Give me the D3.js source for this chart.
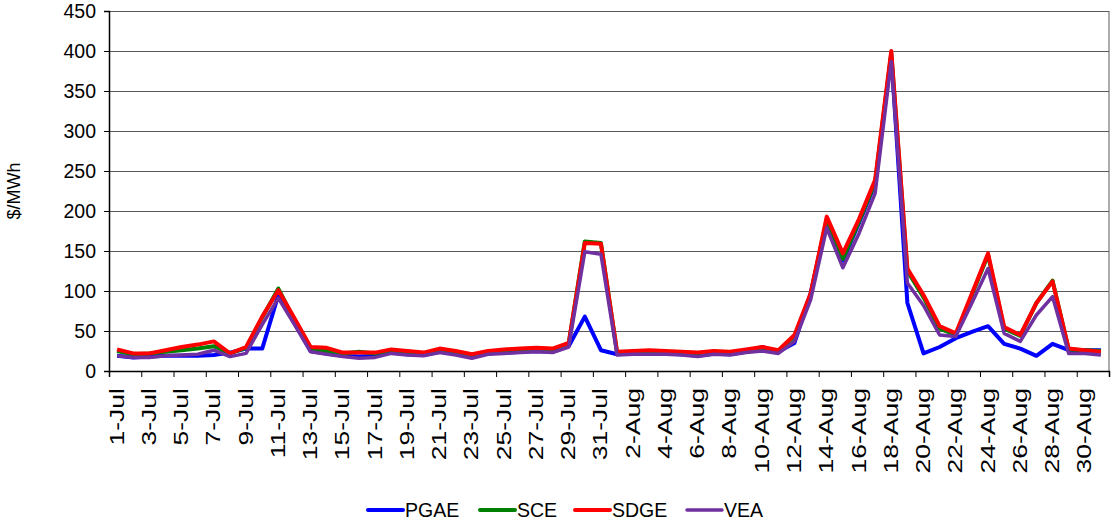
<!DOCTYPE html>
<html>
<head>
<meta charset="utf-8">
<script src="https://cdn.jsdelivr.net/npm/d3@7"></script>
<style>
  body { margin: 0; background: #fff; }
  text { font-family: "Liberation Sans", Arial, sans-serif; }
</style>
</head>
<body>
<svg id="chart"></svg>
<script>
// days 1-Jul .. 31-Aug
const days = [];
for (let d = 1; d <= 31; d++) days.push(d + "-Jul");
for (let d = 1; d <= 31; d++) days.push(d + "-Aug");

const seriesNames = ["PGAE", "SCE", "SDGE", "VEA"];
const seriesColors = ["#0000ff", "#008000", "#ff0000", "#7030a0"];

const pgae = [19,17,18,19,19,19,20,23,28,28,95,60,25,22,19,18,19,23,21,20,24,22,18,22,23,24,25,24,31,68,26,
  21,22,22,22,21,19,22,21,24,30,24,35,97,188,138,185,234,395,85,22,30,41,49,56,34,28,19,34,26,26,26];
const sce = [25,21,22,24,26,28,31,22,29,67,103,64,28,25,22,24,22,26,24,22,27,24,20,24,26,27,28,27,34,162,160,
  23,24,25,24,23,22,24,23,26,29,25,43,95,190,140,187,236,397,125,92,53,45,95,145,53,44,85,113,27,26,25];
const sdge = [27,22,22,26,30,33,37,22,30,68,101,66,30,29,23,23,23,27,25,23,28,25,21,25,27,28,29,28,35,160,159,
  24,25,26,25,24,23,25,24,27,30,26,45,97,193,147,190,239,400,128,95,56,47,97,147,55,45,85,112,28,26,24];
const vea = [19,17,17,19,20,21,26,18,22,58,91,58,24,21,18,16,17,22,20,19,23,20,16,21,22,23,24,23,30,149,146,
  20,21,21,21,20,18,21,20,23,25,22,37,89,179,129,172,222,387,110,82,45,43,85,128,47,37,70,93,22,22,20];

const yTicks = [0, 50, 100, 150, 200, 250, 300, 350, 400, 450];

class PriceChart {

  constructor(_config) {
    this.config = {
      parentElement: _config.parentElement,
      containerWidth: _config.containerWidth || 1112,
      containerHeight: _config.containerHeight || 521,
      margin: { top: 11, bottom: 150, right: 3, left: 109 }
    }
    this.initVis();
  }

  initVis() {
    let vis = this;

    vis.width = vis.config.containerWidth - vis.config.margin.left - vis.config.margin.right;
    vis.height = vis.config.containerHeight - vis.config.margin.top - vis.config.margin.bottom;

    vis.svg = d3.select(vis.config.parentElement)
        .attr('width', vis.config.containerWidth)
        .attr('height', vis.config.containerHeight);

    vis.chart = vis.svg.append('g')
        .attr('transform', `translate(${vis.config.margin.left},${vis.config.margin.top})`);

    vis.xScale = d3.scaleBand().domain(days).range([0, vis.width]).padding(0);
    vis.xTickScale = d3.scaleLinear().domain([0, days.length]).range([0, vis.width]);
    vis.yScale = d3.scaleLinear().domain([0, 450]).range([vis.height, 0]);

    // gridlines
    vis.chart.append('g')
        .attr('class', 'grid')
        .call(d3.axisLeft(vis.yScale).tickValues(yTicks.slice(1)).tickSize(-vis.width).tickFormat(''))
        .call(g => g.select('.domain').remove())
        .call(g => g.selectAll('line').attr('stroke', '#5a5a5a').attr('stroke-width', 1));

    // right border
    vis.chart.append('line')
        .attr('x1', vis.width).attr('x2', vis.width)
        .attr('y1', 0).attr('y2', vis.height)
        .attr('stroke', '#5a5a5a');

    // y axis
    vis.chart.append('g')
        .call(d3.axisLeft(vis.yScale).tickValues(yTicks).tickSize(5).tickPadding(8))
        .call(g => g.select('.domain').attr('stroke', '#000').attr('stroke-width', 1.5))
        .call(g => g.selectAll('text').attr('font-size', 19.5).attr('fill', '#000'));

    // x tick marks every 2 days
    vis.chart.append('g')
        .attr('transform', `translate(0,${vis.height})`)
        .call(d3.axisBottom(vis.xTickScale).tickValues(d3.range(0, days.length + 1, 2)).tickSize(6).tickFormat(''))
        .call(g => g.select('.domain').attr('stroke', '#000').attr('stroke-width', 1.5));

    // x labels every 2 days, rotated and stretched along the text
    vis.chart.append('g')
        .attr('transform', `translate(0,${vis.height})`)
        .call(d3.axisBottom(vis.xScale).tickValues(days.filter((d, i) => i % 2 === 0)).tickSize(0))
        .call(g => g.select('.domain').remove())
        .call(g => g.selectAll('text')
          .attr('font-size', 19.5)
          .attr('fill', '#000')
          .attr('text-anchor', 'end')
          .attr('dy', null)
          .attr('y', 0)
          .attr('x', 0)
          .attr('transform', 'translate(6.5,17) rotate(-90) scale(1.36,1)'));

    // y title
    vis.svg.append('text')
        .attr('transform', `translate(20,${vis.config.margin.top + vis.height / 2}) rotate(-90)`)
        .attr('text-anchor', 'middle')
        .attr('font-size', 18)
        .text('$/MWh');

    vis.updateVis();
  }

  updateVis() {
    let vis = this;
    vis.series = [pgae, sce, sdge, vea].map((vals, k) => ({
      name: seriesNames[k],
      color: seriesColors[k],
      width: k === 3 ? 3.5 : 4,
      values: vals
    }));
    vis.renderVis();
  }

  renderVis() {
    let vis = this;

    const line = d3.line()
        .x((d, i) => vis.xScale(days[i]) + vis.xScale.bandwidth() / 2)
        .y(d => vis.yScale(d));

    vis.chart.selectAll('.series')
        .data(vis.series)
        .join('path')
        .attr('class', 'series')
        .attr('fill', 'none')
        .attr('stroke', d => d.color)
        .attr('stroke-width', d => d.width)
        .attr('stroke-linejoin', 'round')
        .attr('d', d => line(d.values));

    // legend
    const legendX = [368, 480, 575, 687];
    const legend = vis.svg.append('g');
    const item = legend.selectAll('g')
        .data(vis.series)
        .join('g')
        .attr('transform', (d, i) => `translate(${legendX[i]},510)`);
    item.append('line')
        .attr('x1', 0).attr('x2', 35)
        .attr('stroke', d => d.color)
        .attr('stroke-width', d => d.width)
        .attr('stroke-linecap', 'round');
    item.append('text')
        .attr('x', 37)
        .attr('dy', '0.35em')
        .attr('font-size', 19.5)
        .text(d => d.name);
  }
}

new PriceChart({ parentElement: '#chart' });
</script>
</body>
</html>
